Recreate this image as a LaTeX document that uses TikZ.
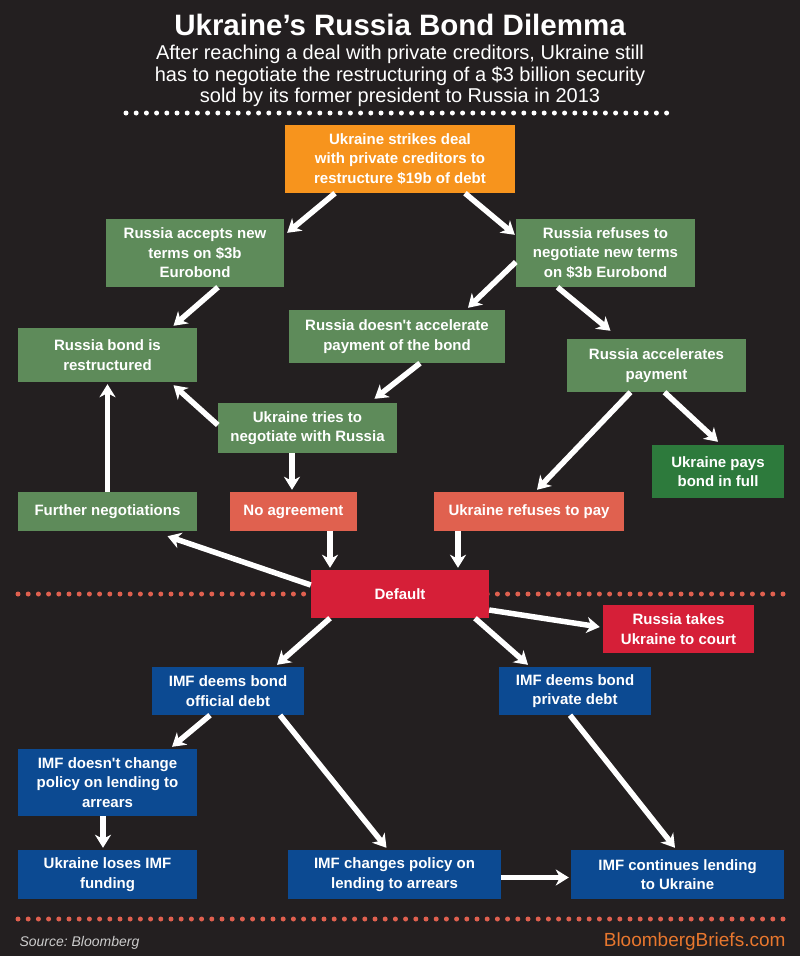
\documentclass[tikz,border=0pt]{standalone}
\usepackage{fontspec}
\setmainfont{Liberation Sans}
\usetikzlibrary{positioning}
\usetikzlibrary{arrows.meta,calc}
\definecolor{bgdark}{HTML}{231F20}
\definecolor{dealorange}{HTML}{F7941D}
\definecolor{russiagreen}{HTML}{5E8B5A}
\definecolor{paygreen}{HTML}{2D7A3C}
\definecolor{salmonred}{HTML}{E0614F}
\definecolor{defaultred}{HTML}{D61F38}
\definecolor{imfblue}{HTML}{0C4A92}
\definecolor{dotred}{HTML}{E0604F}
\definecolor{briefsorange}{HTML}{E8772E}

\begin{document}
\begin{tikzpicture}
    [x=1pt, y=-1pt,
    post/.style={-{Stealth[length=13pt,
                           width=16pt,
                           inset=4pt]},
                 white,
                 line width=5.5pt},
    dots/.style={line width=5pt,
                 line cap=round,
                 dash pattern=on 0pt off 10.2pt},
    ob/.style={rectangle,
               inner sep=0pt,
               align=center,
               text=white,
               font=\fontsize{15}{19.5}\selectfont\bfseries},
    sz/.style 2 args={minimum width=#1pt,
                      minimum height=#2pt}]
    % background and margins
    \fill[bgdark] (0,0) rectangle (800,956);
    \useasboundingbox (0,0) rectangle (800,956);
    % heading
    \node[anchor=base, text=white,
          font=\fontsize{29.5}{32}\selectfont\bfseries] (title) at (400,35)
          {Ukraine’s Russia Bond Dilemma};
    \node[anchor=base, text=white,
          font=\fontsize{20}{22}\selectfont] (sub1) at (400,59)
          {After reaching a deal with private creditors, Ukraine still};
    \node[anchor=base, text=white,
          font=\fontsize{20}{22}\selectfont] (sub2) at (400,81)
          {has to negotiate the restructuring of a \$3 billion security};
    \node[anchor=base, text=white,
          font=\fontsize{20}{22}\selectfont] (sub3) at (400,102)
          {sold by its former president to Russia in 2013};
    % dotted rules
    \draw[dots, white] (126,113) -- (674,113);
    \draw[dots, dotred] (18,594) -- (786,594);
    \draw[dots, dotred] (18,919) -- (786,919);
    % boxes
    \node[ob, sz={230}{68}, fill=dealorange] (deal) at (400,159)
          {Ukraine strikes deal\\with private creditors to\\restructure \$19b of debt};
    \node[ob, sz={178}{68}, fill=russiagreen] (accept) at (195,253)
          {Russia accepts new\\terms on \$3b\\Eurobond};
    \node[ob, sz={179}{68}, fill=russiagreen] (refuse) at (605.5,253)
          {Russia refuses to\\negotiate new terms\\on \$3b Eurobond};
    \node[ob, sz={179}{54}, fill=russiagreen] (restructured) at (107.5,355)
          {Russia bond is\\restructured};
    \node[ob, sz={216}{53}, fill=russiagreen] (noaccel) at (397,336.5)
          {Russia doesn\textquotesingle t accelerate\\payment of the bond};
    \node[ob, sz={179}{53}, fill=russiagreen] (accel) at (656.5,365.5)
          {Russia accelerates\\payment};
    \node[ob, sz={179}{50}, fill=russiagreen] (tries) at (307.5,428)
          {Ukraine tries to\\negotiate with Russia};
    \node[ob, sz={179}{39}, fill=russiagreen] (further) at (107.5,511.5)
          {Further negotiations};
    \node[ob, sz={127}{39}, fill=salmonred] (noagree) at (293.5,511.5)
          {No agreement};
    \node[ob, sz={190}{39}, fill=salmonred] (refusepay) at (529,511.5)
          {Ukraine refuses to pay};
    \node[ob, sz={132}{53}, fill=paygreen] (paysfull) at (718,471.5)
          {Ukraine pays\\bond in full};
    \node[ob, sz={178}{48}, fill=defaultred] (default) at (400,594)
          {Default};
    \node[ob, sz={151}{48}, fill=defaultred] (court) at (678.5,629)
          {Russia takes\\Ukraine to court};
    \node[ob, sz={152}{48}, fill=imfblue] (official) at (228,691)
          {IMF deems bond\\official debt};
    \node[ob, sz={152}{48}, fill=imfblue] (private) at (575,691)
          {IMF deems bond\\private debt};
    \node[ob, sz={179}{67}, fill=imfblue] (nochange) at (107.5,782.5)
          {IMF doesn\textquotesingle t change\\policy on lending to\\arrears};
    \node[ob, sz={179}{49}, fill=imfblue] (loses) at (107.5,874.5)
          {Ukraine loses IMF\\funding};
    \node[ob, sz={213}{49}, fill=imfblue] (changes) at (394.5,874.5)
          {IMF changes policy on\\lending to arrears};
    \node[ob, sz={213}{49}, fill=imfblue] (continues) at (677.5,874.5)
          {IMF continues lending\\to Ukraine};
    % connectors
    \draw[post] ($(deal.south)+(-65,0)$) -- ($(accept.north east)+(3,14)$);
    \draw[post] ($(deal.south)+(65,0)$) -- ($(refuse.north west)+(-1,16)$);
    \draw[post] ($(accept.south)+(23,0)$) -- ($(restructured.north)+(66,-2)$);
    \draw[post] ($(refuse.west)+(0,9)$) -- ($(noaccel.north)+(71,-2)$);
    \draw[post] ($(refuse.south)+(-48,0)$) -- ($(accel.north)+(-46,-8)$);
    \draw[post] ($(noaccel.south)+(23,0)$) -- ($(tries.north)+(67,-4)$);
    \draw[post] ($(tries.west)+(0,-3)$) -- ($(restructured.south)+(66,3)$);
    \draw[post] (further.north) -- ($(restructured.south)+(0,2)$);
    \draw[post] ($(tries.south)+(-15.5,0)$) -- ($(noagree.north)+(-1.5,-2)$);
    \draw[post] ($(accel.south)+(-26,0)$) -- ($(refusepay.north)+(8,-2)$);
    \draw[post] ($(accel.south)+(8,0)$) -- ($(paysfull.north)+(0,-3)$);
    \draw[post] ($(noagree.south)+(36.5,0)$) -- ($(default.north)+(-70,-2)$);
    \draw[post] ($(refusepay.south)+(-71,0)$) -- ($(default.north)+(58,-2)$);
    \draw[post] ($(default.west)+(0,-9)$) -- ($(further.south)+(60,5)$);
    \draw[post] ($(default.east)+(0,16)$) -- ($(court.west)+(-3,-2)$);
    \draw[post] ($(default.south)+(-70,0)$) -- ($(official.north)+(49,-2)$);
    \draw[post] ($(default.south)+(75,0)$) -- ($(private.north)+(-47,-2)$);
    \draw[post] ($(official.south)+(-18,0)$) -- ($(nochange.north)+(64.5,-2)$);
    \draw[post] ($(official.south)+(52,0)$) -- ($(changes.north)+(-8,-2)$);
    \draw[post] ($(private.south)+(-5,0)$) -- ($(continues.north)+(-2.5,-2)$);
    \draw[post] ($(nochange.south)+(-4.5,0)$) -- ($(loses.north)+(-4.5,-2)$);
    \draw[post] ($(changes.east)+(0,3)$) -- ($(continues.west)+(-2,3)$);
    % footer
    \node[anchor=base west, text=black!20,
          font=\fontsize{14}{16}\selectfont\itshape] (source) at (16,946)
          {Source:\ Bloomberg};
    \node[anchor=base east, text=briefsorange,
          font=\fontsize{19}{21}\selectfont] (briefs) at (789,946)
          {BloombergBriefs.com};
\end{tikzpicture}
\end{document}
